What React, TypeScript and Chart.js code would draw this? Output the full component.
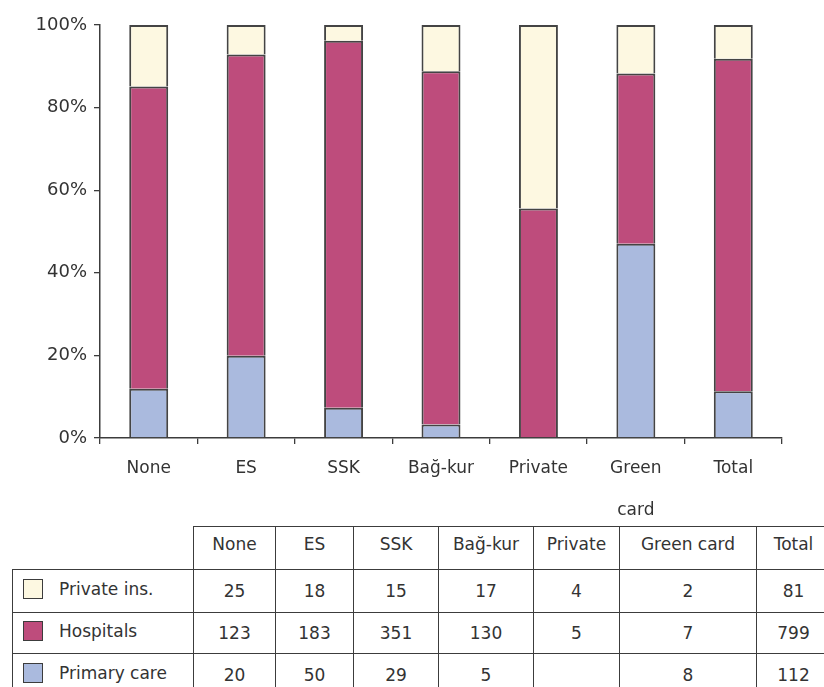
import React, { useEffect, useRef } from "react";
import { Chart, registerables } from "chart.js";

Chart.register(...registerables);

const categories: (string | string[])[] = ["None", "ES", "SSK", "Bağ-kur", "Private", ["Green", "card"], "Total"];
const tableHeaders: string[] = ["None", "ES", "SSK", "Bağ-kur", "Private", "Green card", "Total"];
const seriesNames: string[] = ["Private ins.", "Hospitals", "Primary care"];
const privateIns: (number | null)[] = [25, 18, 15, 17, 4, 2, 81];
const hospitals: (number | null)[] = [123, 183, 351, 130, 5, 7, 799];
const primaryCare: (number | null)[] = [20, 50, 29, 5, null, 8, 112];
const yTicks: number[] = [0, 20, 40, 60, 80, 100];

const COLORS = {
  privateIns: "#FDF8E1",
  hospitals: "#BE4C7C",
  primaryCare: "#AABADE",
  border: "#3c3c3c",
  barBorder: "#444444",
  text: "#333333",
};

const FONT = "'DejaVu Sans', sans-serif";

function totals(): number[] {
  return categories.map((_, i) => (privateIns[i] ?? 0) + (hospitals[i] ?? 0) + (primaryCare[i] ?? 0));
}

function pct(arr: (number | null)[]): (number | null)[] {
  const t = totals();
  return arr.map((v, i) => (v == null ? null : (v / t[i]) * 100));
}

function ChartCanvas() {
  const ref = useRef<HTMLCanvasElement | null>(null);
  useEffect(() => {
    if (!ref.current) return;
    const common = {
      borderColor: COLORS.barBorder,
      borderWidth: { top: 2, left: 2, right: 2, bottom: 0 },
      borderSkipped: false as const,
      barPercentage: 0.4,
      categoryPercentage: 1,
    };
    const chart = new Chart(ref.current, {
      type: "bar",
      data: {
        labels: categories,
        datasets: [
          { label: seriesNames[2], data: pct(primaryCare), backgroundColor: COLORS.primaryCare, ...common },
          { label: seriesNames[1], data: pct(hospitals), backgroundColor: COLORS.hospitals, ...common },
          { label: seriesNames[0], data: pct(privateIns), backgroundColor: COLORS.privateIns, ...common },
        ],
      },
      options: {
        animation: false,
        responsive: false,
        devicePixelRatio: 1,
        layout: { padding: { left: 0, right: 42, top: 25, bottom: 0 } },
        plugins: { legend: { display: false }, tooltip: { enabled: false } },
        scales: {
          x: {
            stacked: true,
            offset: true,
            grid: { offset: true, drawOnChartArea: false, drawTicks: true, tickLength: 6, color: COLORS.border, lineWidth: 1.3 },
            border: { display: true, color: COLORS.border, width: 1.5 },
            ticks: { color: COLORS.text, padding: 4, font: { family: FONT, size: 17, lineHeight: "42px" }, maxRotation: 0, autoSkip: false },
            afterFit: (s: any) => { s.height = 82; },
          },
          y: {
            stacked: true,
            min: 0,
            max: 100,
            afterBuildTicks: (s: any) => { s.ticks = yTicks.map((v) => ({ value: v })); },
            grid: { drawOnChartArea: false, drawTicks: true, tickLength: 6, color: COLORS.border, lineWidth: 1.3 },
            border: { display: true, color: COLORS.border, width: 1.5 },
            ticks: { color: COLORS.text, padding: 7, font: { family: FONT, size: 18 }, callback: (v: any) => v + "%" },
            afterFit: (s: any) => { s.width = 100; },
          },
        },
      },
    });
    return () => chart.destroy();
  }, []);
  return <canvas ref={ref} width={824} height={520} style={{ position: "absolute", left: 0, top: 0, width: 824, height: 520 }} />;
}

const swatchColors = [COLORS.privateIns, COLORS.hospitals, COLORS.primaryCare];
const rowsData = [privateIns, hospitals, primaryCare];
const colWidths = [181, 82, 78, 85, 95, 86, 137, 74];
const rowHeights = [43, 43, 41, 42];

export default function App() {
  const cell: React.CSSProperties = {
    border: `1px solid ${COLORS.border}`,
    textAlign: "center",
    verticalAlign: "middle",
    padding: 0,
    color: COLORS.text,
  };
  const headCell: React.CSSProperties = { ...cell, paddingBottom: 8 };
  return (
    <div style={{ position: "absolute", left: 0, top: 0, width: 824, height: 687, overflow: "hidden", background: "#fff", fontFamily: FONT }}>
      <ChartCanvas />
      <table
        style={{
          position: "absolute",
          left: 12,
          top: 526,
          borderCollapse: "collapse",
          tableLayout: "fixed",
          width: colWidths.reduce((a, b) => a + b, 0),
          fontSize: 17,
          fontFamily: FONT,
        }}
      >
        <colgroup>
          {colWidths.map((w, i) => (
            <col key={i} style={{ width: w }} />
          ))}
        </colgroup>
        <tbody>
          <tr style={{ height: rowHeights[0] }}>
            <td style={{ border: "none", padding: 0 }} />
            {tableHeaders.map((h, i) => (
              <td key={i} style={headCell}>{h}</td>
            ))}
          </tr>
          {rowsData.map((row, r) => (
            <tr key={r} style={{ height: rowHeights[r + 1] }}>
              <td style={{ ...cell, textAlign: "left" }}>
                <span style={{ display: "inline-flex", alignItems: "center" }}>
                  <span
                    style={{
                      display: "inline-block",
                      width: 18,
                      height: 18,
                      marginLeft: 10,
                      marginRight: 16,
                      background: swatchColors[r],
                      border: `1px solid ${COLORS.border}`,
                    }}
                  />
                  {seriesNames[r]}
                </span>
              </td>
              {row.map((v, i) => (
                <td key={i} style={cell}>{v == null ? "" : String(v)}</td>
              ))}
            </tr>
          ))}
        </tbody>
      </table>
    </div>
  );
}
